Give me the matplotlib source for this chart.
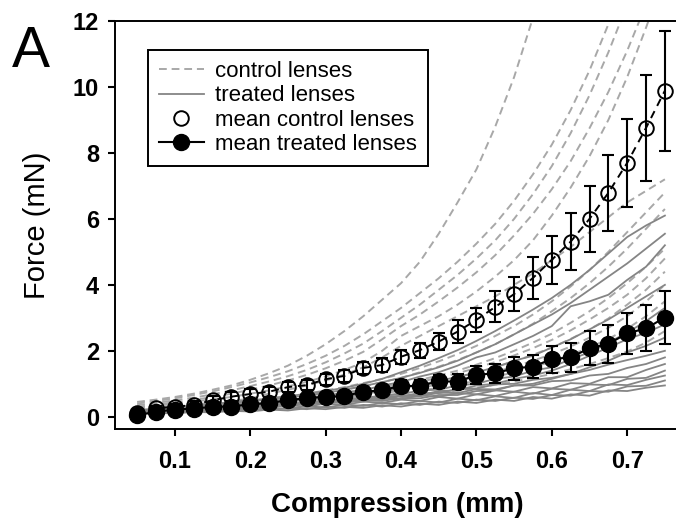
import matplotlib
matplotlib.use("Agg")
import matplotlib.pyplot as plt

plt.rcParams['font.family'] = ['Liberation Sans', 'DejaVu Sans']

# compression steps (mm)
x = [0.05, 0.075, 0.1, 0.125, 0.15, 0.175, 0.2, 0.225, 0.25, 0.275, 0.3,
     0.325, 0.35, 0.375, 0.4, 0.425, 0.45, 0.475, 0.5, 0.525, 0.55, 0.575,
     0.6, 0.625, 0.65, 0.675, 0.7, 0.725, 0.75]

# individual control lenses (force, mN); curves that leave the top stop early
control = [
    [0.45, 0.52, 0.6, 0.7, 0.82, 0.95, 1.12, 1.32, 1.55, 1.85, 2.2, 2.6, 3.05, 3.55, 4.05,
     4.7, 5.55, 6.5, 7.5, 8.8, 10.3, 12.1, 14.0],
    [0.4, 0.48, 0.56, 0.66, 0.77, 0.9, 1.04, 1.2, 1.38, 1.6, 1.85, 2.15, 2.5, 2.9, 3.3,
     3.75, 4.2, 4.7, 5.25, 5.85, 6.55, 7.35, 8.25, 9.3, 10.5, 11.9, 13.4],
    [0.35, 0.42, 0.5, 0.58, 0.68, 0.8, 0.93, 1.07, 1.23, 1.42, 1.65, 1.92, 2.22, 2.6, 3.0,
     3.4, 3.85, 4.3, 4.8, 5.35, 6.0, 6.75, 7.6, 8.6, 9.75, 11.05, 12.5],
    [0.3, 0.37, 0.44, 0.51, 0.6, 0.7, 0.82, 0.95, 1.1, 1.27, 1.47, 1.7, 1.97, 2.35, 2.75,
     3.1, 3.5, 3.92, 4.38, 4.9, 5.5, 6.15, 6.9, 7.75, 8.75, 9.85, 11.1, 12.5],
    [0.28, 0.33, 0.4, 0.46, 0.53, 0.6, 0.7, 0.8, 0.92, 1.06, 1.22, 1.42, 1.65, 2.0, 2.45,
     2.75, 3.05, 3.4, 3.8, 4.25, 4.75, 5.35, 6.1, 6.95, 7.9, 9.0, 10.3, 11.8, 13.4],
    [0.25, 0.28, 0.33, 0.38, 0.42, 0.48, 0.55, 0.7, 0.82, 0.95, 1.1, 1.28, 1.5, 1.8, 2.15,
     2.45, 2.75, 3.05, 3.35, 3.65, 4.0, 4.35, 4.75, 5.15, 5.6, 6.05, 6.5, 6.85, 7.2],
    [0.22, 0.26, 0.3, 0.35, 0.4, 0.45, 0.5, 0.56, 0.63, 0.7, 0.8, 0.9, 1.02, 1.15, 1.3,
     1.48, 1.68, 1.9, 2.15, 2.45, 2.75, 3.1, 3.5, 3.95, 4.45, 5.0, 5.6, 6.2, 6.8],
    [0.2, 0.25, 0.3, 0.33, 0.38, 0.42, 0.48, 0.52, 0.58, 0.65, 0.72, 0.82, 0.92, 1.05, 1.18,
     1.35, 1.52, 1.72, 1.95, 2.2, 2.5, 2.82, 3.2, 3.6, 4.05, 4.55, 5.1, 5.7, 6.3],
    [0.2, 0.22, 0.28, 0.3, 0.35, 0.38, 0.43, 0.47, 0.52, 0.58, 0.65, 0.72, 0.8, 0.9, 1.0,
     1.12, 1.25, 1.4, 1.58, 1.78, 2.0, 2.25, 2.52, 2.85, 3.2, 3.6, 4.05, 4.55, 5.1],
    [0.18, 0.22, 0.25, 0.3, 0.32, 0.36, 0.4, 0.45, 0.5, 0.55, 0.62, 0.68, 0.76, 0.85, 0.95,
     1.06, 1.18, 1.32, 1.48, 1.66, 1.86, 2.08, 2.33, 2.62, 2.95, 3.3, 3.7, 4.2, 4.8],
    [0.15, 0.2, 0.24, 0.27, 0.3, 0.34, 0.38, 0.42, 0.46, 0.52, 0.57, 0.63, 0.7, 0.78, 0.87,
     0.97, 1.08, 1.2, 1.34, 1.5, 1.68, 1.88, 2.1, 2.36, 2.65, 2.98, 3.4, 3.85, 4.4],
    [0.15, 0.18, 0.22, 0.26, 0.28, 0.32, 0.35, 0.38, 0.43, 0.47, 0.52, 0.58, 0.64, 0.71, 0.79,
     0.88, 0.98, 1.09, 1.22, 1.36, 1.52, 1.7, 1.9, 2.13, 2.4, 2.7, 3.05, 3.5, 4.0],
    [0.12, 0.16, 0.2, 0.23, 0.26, 0.29, 0.33, 0.36, 0.4, 0.44, 0.48, 0.53, 0.58, 0.64, 0.71,
     0.79, 0.88, 0.98, 1.09, 1.21, 1.35, 1.5, 1.68, 1.88, 2.1, 2.36, 2.67, 3.05, 3.5],
    [0.12, 0.15, 0.18, 0.2, 0.23, 0.26, 0.29, 0.32, 0.35, 0.38, 0.42, 0.46, 0.5, 0.55, 0.6,
     0.66, 0.73, 0.8, 0.88, 0.97, 1.07, 1.18, 1.3, 1.44, 1.6, 1.78, 1.98, 2.25, 2.6],
]

# individual treated lenses (force, mN)
treated = [
    [0.2, 0.25, 0.3, 0.35, 0.38, 0.45, 0.5, 0.55, 0.62, 0.7, 0.78, 0.88, 1.0, 1.15, 1.35,
     1.55, 1.78, 2.02, 2.3, 2.6, 2.92, 3.25, 3.6, 4.0, 4.45, 4.95, 5.45, 5.8, 6.1],
    [0.18, 0.22, 0.27, 0.32, 0.36, 0.42, 0.47, 0.52, 0.58, 0.65, 0.72, 0.82, 0.93, 1.05, 1.18,
     1.33, 1.5, 1.7, 1.95, 2.2, 2.5, 2.8, 3.1, 3.45, 3.85, 4.25, 4.65, 5.1, 5.55],
    [0.15, 0.22, 0.2, 0.3, 0.28, 0.38, 0.36, 0.45, 0.46, 0.58, 0.62, 0.75, 0.8, 0.95, 1.05,
     1.22, 1.35, 1.55, 1.8, 1.95, 2.2, 2.45, 2.75, 3.35, 3.5, 3.7, 4.15, 4.55, 5.2],
    [0.2, 0.18, 0.28, 0.25, 0.35, 0.32, 0.42, 0.4, 0.5, 0.48, 0.6, 0.6, 0.72, 0.75, 0.88,
     0.95, 1.1, 1.2, 1.35, 1.5, 1.7, 1.85, 2.1, 2.35, 2.65, 2.95, 3.3, 3.65, 4.0],
    [0.12, 0.2, 0.18, 0.26, 0.24, 0.32, 0.3, 0.38, 0.37, 0.45, 0.46, 0.55, 0.56, 0.65, 0.68,
     0.8, 0.82, 0.95, 1.0, 1.15, 1.22, 1.4, 1.5, 1.75, 1.95, 2.25, 2.55, 2.9, 3.3],
    [0.15, 0.15, 0.22, 0.2, 0.28, 0.26, 0.33, 0.32, 0.4, 0.38, 0.46, 0.45, 0.55, 0.53, 0.64,
     0.65, 0.78, 0.8, 0.95, 1.0, 1.15, 1.25, 1.4, 1.6, 1.85, 2.1, 2.35, 2.55, 2.8],
    [0.18, 0.16, 0.24, 0.22, 0.3, 0.27, 0.35, 0.32, 0.4, 0.37, 0.45, 0.42, 0.5, 0.48, 0.57,
     0.56, 0.66, 0.66, 0.78, 0.8, 0.95, 1.0, 1.15, 1.3, 1.5, 1.7, 1.95, 2.15, 2.4],
    [0.12, 0.18, 0.17, 0.25, 0.24, 0.32, 0.3, 0.38, 0.37, 0.45, 0.44, 0.53, 0.52, 0.62, 0.62,
     0.72, 0.72, 0.84, 0.86, 0.98, 1.0, 1.12, 1.18, 1.3, 1.42, 1.58, 1.72, 1.85, 2.0],
    [0.15, 0.13, 0.22, 0.2, 0.28, 0.26, 0.34, 0.32, 0.4, 0.38, 0.47, 0.45, 0.55, 0.53, 0.64,
     0.62, 0.73, 0.72, 0.84, 0.83, 0.95, 0.95, 1.08, 1.1, 1.25, 1.3, 1.48, 1.6, 1.8],
    [0.12, 0.18, 0.17, 0.24, 0.22, 0.3, 0.28, 0.36, 0.33, 0.42, 0.4, 0.5, 0.46, 0.57, 0.53,
     0.65, 0.6, 0.72, 0.68, 0.8, 0.76, 0.9, 0.86, 1.02, 1.0, 1.2, 1.2, 1.42, 1.6],
    [0.15, 0.13, 0.2, 0.18, 0.25, 0.22, 0.3, 0.27, 0.35, 0.31, 0.4, 0.36, 0.46, 0.42, 0.52,
     0.48, 0.6, 0.55, 0.68, 0.63, 0.76, 0.7, 0.85, 0.82, 0.98, 0.96, 1.15, 1.18, 1.4],
    [0.1, 0.15, 0.13, 0.19, 0.17, 0.23, 0.2, 0.27, 0.24, 0.32, 0.28, 0.37, 0.33, 0.42, 0.38,
     0.48, 0.43, 0.55, 0.5, 0.62, 0.57, 0.72, 0.66, 0.82, 0.78, 0.98, 0.96, 1.12, 1.25],
    [0.12, 0.1, 0.16, 0.14, 0.2, 0.17, 0.23, 0.2, 0.27, 0.23, 0.31, 0.27, 0.36, 0.31, 0.41,
     0.36, 0.46, 0.42, 0.52, 0.48, 0.58, 0.54, 0.66, 0.64, 0.78, 0.76, 0.92, 0.94, 1.1],
    [0.08, 0.12, 0.1, 0.15, 0.13, 0.18, 0.16, 0.22, 0.19, 0.26, 0.23, 0.3, 0.27, 0.35, 0.31,
     0.4, 0.36, 0.46, 0.42, 0.52, 0.48, 0.6, 0.55, 0.68, 0.64, 0.8, 0.78, 0.88, 0.95],
]

ctrl_mean = [0.12, 0.26, 0.30, 0.36, 0.50, 0.61, 0.69, 0.76, 0.90, 0.96, 1.14, 1.24, 1.48,
             1.57, 1.82, 2.02, 2.28, 2.58, 2.94, 3.33, 3.72, 4.21, 4.76, 5.31, 6.00, 6.79,
             7.70, 8.76, 9.89]
ctrl_err = [0.05, 0.08, 0.10, 0.11, 0.12, 0.13, 0.14, 0.15, 0.15, 0.16, 0.17, 0.18, 0.19,
            0.20, 0.21, 0.23, 0.27, 0.34, 0.37, 0.47, 0.52, 0.64, 0.73, 0.87, 1.00, 1.15,
            1.34, 1.60, 1.82]
treat_mean = [0.05, 0.15, 0.22, 0.25, 0.30, 0.31, 0.38, 0.41, 0.51, 0.56, 0.61, 0.63, 0.76,
              0.80, 0.94, 0.93, 1.08, 1.06, 1.27, 1.32, 1.47, 1.52, 1.75, 1.80, 2.08, 2.21,
              2.53, 2.68, 3.01]
treat_err = [0.03, 0.04, 0.05, 0.05, 0.06, 0.06, 0.07, 0.08, 0.09, 0.10, 0.11, 0.12, 0.13,
             0.14, 0.16, 0.18, 0.20, 0.23, 0.28, 0.29, 0.35, 0.35, 0.41, 0.45, 0.51, 0.58,
             0.62, 0.70, 0.81]

fig = plt.figure(figsize=(6.76, 5.25), dpi=100)
ax = fig.add_axes([0.1694, 0.1829, 0.8365, 0.7771])

for k, c in enumerate(control):
    ax.plot(x[:len(c)], c, color='#a8a8a8', lw=1.4, ls=(0, (4, 2.5)),
            label='control lenses' if k == 0 else None, zorder=2)
for k, t in enumerate(treated):
    ax.plot(x, t, color='#858585', lw=1.3,
            label='treated lenses' if k == 0 else None, zorder=2)

# means with error bars
ax.plot(x, ctrl_mean, color='black', lw=1.4, ls=(0, (4, 3)), zorder=3)
ax.errorbar(x, ctrl_mean, yerr=ctrl_err, fmt='none', ecolor='black',
            elinewidth=1.5, capsize=4.5, capthick=1.5, zorder=4)
ax.plot(x, ctrl_mean, 'o', ms=10.5, mfc='none', mec='black', mew=1.4,
        label='mean control lenses', zorder=5)
ax.errorbar(x, treat_mean, yerr=treat_err, fmt='none', ecolor='black',
            elinewidth=1.5, capsize=4.5, capthick=1.5, zorder=4)
ax.plot(x, treat_mean, '-o', color='black', lw=1.5, ms=11.5,
        label='mean treated lenses', zorder=6)

ax.set_xlim(0.02, 0.77)
ax.set_ylim(-0.37, 12)
ax.set_xticks([0.1, 0.2, 0.3, 0.4, 0.5, 0.6, 0.7])
ax.set_yticks([0, 2, 4, 6, 8, 10, 12])
ax.tick_params(direction='out', length=5, width=1.5, labelsize=17)
ax.tick_params(axis='y', pad=6)
ax.tick_params(axis='x', pad=10)
for lbl in ax.get_xticklabels() + ax.get_yticklabels():
    lbl.set_fontweight('bold')
for s in ax.spines.values():
    s.set_linewidth(1.4)

ax.set_xlabel('Compression (mm)', fontsize=20, fontweight='bold', labelpad=14)
ax.set_ylabel('Force (mN)', fontsize=21, labelpad=16)

leg = ax.legend(loc='upper left', bbox_to_anchor=(0.219, 0.905),
                bbox_transform=fig.transFigure, fontsize=16, frameon=True,
                fancybox=False, framealpha=1, edgecolor='black',
                handlelength=2.0, handletextpad=0.5, labelspacing=0.15,
                borderaxespad=0, borderpad=0.5)
leg.get_frame().set_linewidth(1.4)

fig.text(0.018, 0.872, 'A', fontsize=41)

fig.savefig('out.png', dpi=100)
